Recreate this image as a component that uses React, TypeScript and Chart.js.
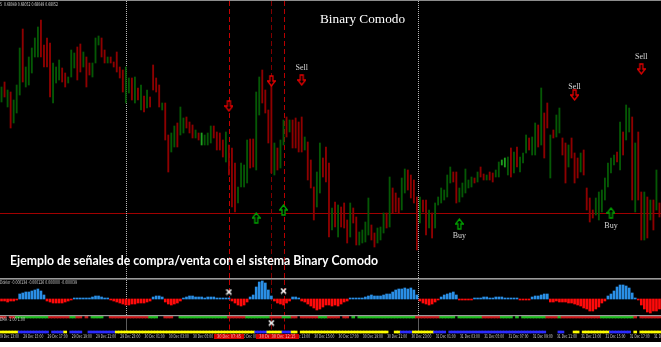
import React, { useEffect, useRef } from "react";
import { Chart, registerables } from "chart.js";
Chart.register(...registerables);

// ---------- DATA ----------
const highs = [
  0.68195, 0.682, 0.68192, 0.6819, 0.68182, 0.68197, 0.68234, 0.68253, 0.68215, 0.68225,
  0.68234, 0.68244, 0.68255, 0.68262, 0.68237, 0.68244, 0.68239, 0.68219, 0.68215, 0.68222,
  0.68214, 0.68209, 0.68205, 0.68232, 0.68229, 0.68235, 0.68238, 0.6823, 0.68225, 0.68219,
  0.68219, 0.68244, 0.68246, 0.68244, 0.68232, 0.68225, 0.68225, 0.6822, 0.6823, 0.68215,
  0.68212, 0.68215, 0.68204, 0.68204, 0.68205, 0.68194, 0.68197, 0.68186, 0.68192, 0.68185,
  0.68217, 0.68204, 0.68197, 0.68179, 0.68179, 0.68147, 0.68149, 0.68156, 0.68159, 0.68175,
  0.68164, 0.68165, 0.6816, 0.68157, 0.68152, 0.68149, 0.68149, 0.68147, 0.68149, 0.68156,
  0.68156, 0.6815, 0.68149, 0.68142, 0.6815, 0.68137, 0.68134, 0.68119, 0.68095, 0.68119,
  0.68117, 0.68142, 0.68143, 0.68143, 0.6819, 0.68205, 0.68212, 0.68192, 0.68172, 0.68204,
  0.68139, 0.68134, 0.68142, 0.68162, 0.68165, 0.68162, 0.68162, 0.68164, 0.6816, 0.68165,
  0.68145, 0.6814, 0.68122, 0.68095, 0.6811, 0.68139, 0.68124, 0.68135, 0.68119, 0.68074,
  0.6808, 0.68077, 0.68075, 0.68079, 0.68062, 0.68079, 0.68074, 0.68065, 0.6805, 0.68052,
  0.6806, 0.68084, 0.68057, 0.68049, 0.68054, 0.68055, 0.68069, 0.68069, 0.68105, 0.68094,
  0.68089, 0.68084, 0.68104, 0.68113, 0.68112, 0.68107, 0.68102, 0.68085, 0.68085, 0.68082,
  0.68082, 0.68072, 0.68069, 0.68079, 0.68085, 0.68094, 0.68092, 0.68107, 0.68115, 0.6811,
  0.6811, 0.68094, 0.68099, 0.68113, 0.68102, 0.68105, 0.68104, 0.6811, 0.68115, 0.68108,
  0.68107, 0.6811, 0.68109, 0.68112, 0.6812, 0.68122, 0.68124, 0.68125, 0.68134, 0.6813,
  0.68135, 0.68125, 0.68129, 0.68147, 0.68144, 0.68145, 0.68159, 0.68157, 0.68194, 0.68169,
  0.68179, 0.68147, 0.68152, 0.68167, 0.68174, 0.68144, 0.68139, 0.68137, 0.68144, 0.68129,
  0.68124, 0.68129, 0.68132, 0.68094, 0.68084, 0.68072, 0.68084, 0.6809, 0.68092, 0.68104,
  0.68119, 0.68124, 0.68127, 0.6813, 0.6816, 0.6815, 0.68177, 0.68174, 0.68165, 0.68139,
  0.6815, 0.6809, 0.6809, 0.68085, 0.68082, 0.68082, 0.68112, 0.68079,
];
const lows = [
  0.6818, 0.68185, 0.68175, 0.68154, 0.68159, 0.68169, 0.68187, 0.682, 0.68195, 0.68197,
  0.68209, 0.68225, 0.68225, 0.68225, 0.68215, 0.68215, 0.68185, 0.68179, 0.68199, 0.68202,
  0.682, 0.68195, 0.68199, 0.68205, 0.68214, 0.68202, 0.6821, 0.68215, 0.68195, 0.68207,
  0.68205, 0.68219, 0.68237, 0.68225, 0.68219, 0.68219, 0.68219, 0.68215, 0.6821, 0.68204,
  0.6819, 0.68179, 0.68189, 0.68182, 0.68179, 0.68182, 0.68172, 0.6817, 0.68174, 0.68175,
  0.68192, 0.6819, 0.68175, 0.68172, 0.68142, 0.6811, 0.6813, 0.68135, 0.68135, 0.68147,
  0.68149, 0.68154, 0.68149, 0.68144, 0.68144, 0.68142, 0.68137, 0.68137, 0.68137, 0.68139,
  0.68144, 0.68132, 0.68132, 0.68125, 0.6812, 0.68107, 0.68075, 0.6807, 0.68079, 0.68095,
  0.68095, 0.68099, 0.68114, 0.68115, 0.68112, 0.68167, 0.68179, 0.68169, 0.68139, 0.68109,
  0.68107, 0.68112, 0.68114, 0.68137, 0.68145, 0.6815, 0.68134, 0.68134, 0.6813, 0.6813,
  0.68132, 0.68102, 0.68094, 0.68062, 0.68075, 0.68089, 0.68105, 0.681, 0.68045, 0.68052,
  0.68055, 0.68045, 0.68055, 0.68054, 0.68039, 0.68045, 0.68059, 0.68037, 0.68037, 0.68039,
  0.6804, 0.68047, 0.68042, 0.68035, 0.68039, 0.68042, 0.68049, 0.68054, 0.68055, 0.68069,
  0.6807, 0.68069, 0.68072, 0.68089, 0.68092, 0.68084, 0.68079, 0.68032, 0.68059, 0.6807,
  0.68047, 0.68054, 0.68044, 0.68054, 0.68077, 0.68079, 0.68082, 0.68085, 0.68099, 0.681,
  0.68079, 0.6808, 0.68085, 0.68089, 0.68094, 0.68095, 0.68099, 0.681, 0.68105, 0.68102,
  0.68102, 0.68102, 0.681, 0.68105, 0.68105, 0.68117, 0.68115, 0.68107, 0.68105, 0.68109,
  0.68115, 0.6811, 0.68119, 0.68129, 0.68132, 0.68127, 0.68127, 0.68135, 0.68137, 0.68124,
  0.68154, 0.68104, 0.68144, 0.68145, 0.68149, 0.68127, 0.68099, 0.68115, 0.68124, 0.68099,
  0.68104, 0.6811, 0.68107, 0.68072, 0.6806, 0.68064, 0.68067, 0.68062, 0.6807, 0.68082,
  0.68095, 0.68109, 0.68117, 0.6812, 0.68112, 0.68127, 0.68142, 0.6815, 0.68082, 0.6807,
  0.68082, 0.68042, 0.68042, 0.68044, 0.68062, 0.68052, 0.68072, 0.68065,
];
// G = bullish bar, R = bearish bar
const barDirection = (
  "GRGRGGGRGG" + "GGGRRRRGGG" + "RRGGGRRGRR" + "GGGRRGRRRR" + "RGGRGRGRGR" +
  "RRRGRRGGRG" + "GRRRGRGGGG" + "RRRRGRRRGG" + "GGRRGGRRRR" + "GRGGRGRRRR" +
  "GRRRGGRRRG" + "RGRRRGRRGG" + "GGRRGGGRGR" + "RRGGRRRRGR" + "RGRGGGGGGR" +
  "RGGGGGRGRR" + "GRRGGGGGRG" + "RGGGRGGRGR" + "RGRGGRRGRR" + "RGRRRRGGGG" +
  "GGGRGRGGRG" + "RRGRGRGR"
).split("");
const brightBars = [66, 165, 166];

// oscillator histogram (units of 0.00001)
const oscillator = [
  -2, -2, -3, -2, -2, -1,
  5, 6, 7, 7, 8, 9, 10, 8, 4,
  -2, -3, -4, -4, -4, -4, -3, -2, -1,
  1, 1, 1, 1, 1, 1, 2, 3, 3, 2, 1, 1,
  -1, -2, -3, -4, -5, -6, -6, -5, -5, -4, -4, -4, -3, -2,
  2, 3, 3, 2,
  -3, -5, -6, -5, -4, -2,
  1, 2, 3, 3, 2, 2, 2, 1, 2, 2, 2, 1, 1, 1, 1, 1,
  -2, -4, -6, -7, -6, -3,
  2, 4, 12, 17, 18, 16, 9, 3,
  -2, -4, -5, -6, -4, -2,
  2, 2, 1,
  -2, -3, -5, -7, -9, -11, -10, -8, -6,
  -6, -7, -6, -7, -5, -3, -2,
  1, 1, 1, 1, 1,
  2, 3, 4, 3, 3, 3, 4, 5, 5,
  7, 9, 10, 10, 11, 10, 11, 9, 4,
  -2, -4, -5, -6, -5, -3, -1,
  2, 4, 5, 6, 7, 4,
  -1, -1, -1, -1, -1,
  1, 1, 1, 2, 2, 1, 1, 2, 2, 2, 1, 1, 1, 1, 1,
  -1, -1, -1, -1,
  2, 3, 3, 4, 5, 5,
  -3, -3, -2, -3, -3,
  -3, -4, -4, -5, -6, -7, -9, -10, -12, -12, -10, -8, -4, -2,
  3, 5, 8, 12, 14, 14, 13, 11, 6,
  1, -1,
  -6, -10, -13, -14, -12, -12, -10,
];

// EMA state strip: g = up, r = down, . = none  (run lengths)
const emaRuns: [string, number][] = [
  ["r", 2], [".", 1], ["r", 2], ["g", 11], ["r", 7], ["g", 2], ["r", 2], [".", 1], ["r", 1], [".", 1],
  ["g", 4], [".", 2], ["r", 13], ["g", 3], [".", 2], ["r", 3], [".", 2], ["g", 16], ["r", 6], ["g", 8],
  ["r", 4], ["g", 3], ["r", 2], [".", 1], ["r", 6], ["g", 3], ["r", 4], [".", 1], ["r", 2], [".", 1],
  ["g", 1], [".", 1], ["g", 19], ["r", 8], ["g", 5], [".", 1], ["g", 8], ["r", 6], ["g", 4], [".", 1],
  ["g", 1], [".", 1], ["g", 8], ["r", 4], ["g", 1], ["r", 13], ["g", 11], ["r", 1], [".", 1], ["r", 7],
];
// trend strip: y = yellow, b = blue, . = none (run lengths)
const trendRuns: [string, number][] = [
  ["y", 6], ["b", 10], [".", 1], ["b", 4], ["y", 1], [".", 1], ["b", 4], [".", 2], ["b", 9], ["y", 46],
  ["b", 4], ["y", 5], ["b", 3], ["y", 2], [".", 1], ["y", 29], [".", 2], ["y", 2], ["b", 4], ["y", 7],
  ["b", 4], [".", 1], ["b", 32], [".", 4], ["b", 2], [".", 3], ["y", 2], [".", 1], ["y", 9], ["b", 7],
  [".", 1], ["y", 1], [".", 1], ["y", 7],
];

const sellBars = [75, 89, 99, 189, 211];
const sellPrices = [0.68176, 0.68201, 0.68202, 0.68187, 0.68213];
const buyBars = [84, 93, 151, 201];
const buyPrices = [0.68064, 0.68072, 0.68058, 0.68069];
const sellTextBars = [99, 189, 211];
const sellTextPrices = [0.68214, 0.68195, 0.68225];
const buyTextBars = [151, 201];
const buyTextPrices = [0.68046, 0.68056];
const supportLevel = 0.68069;
const signalBars = [75, 89, 93];
const signalTimes = ["30 Dec 07:45", "30 Dec 11:15", "30 Dec 12:15"];
const daySeparatorBars = [41, 137.4];
const oscMarkBars = [75, 93];
const oscMarkValues = [7, 8];
const emaMarkBars = [89];

const tickEvery = 8;
const tickLabels = [
  "29 Dec 13:00", "29 Dec 15:00", "29 Dec 17:00", "29 Dec 19:00", "29 Dec 21:00", "29 Dec 23:00",
  "30 Dec 01:00", "30 Dec 03:00", "30 Dec 05:00", "30 Dec 07:00", "30 Dec 09:00", "30 Dec 11:00",
  "30 Dec 13:00", "30 Dec 15:00", "30 Dec 17:00", "30 Dec 19:00", "30 Dec 21:00", "30 Dec 23:00",
  "31 Dec 01:00", "31 Dec 03:00", "31 Dec 05:00", "31 Dec 07:00", "31 Dec 09:00", "31 Dec 11:00",
  "31 Dec 13:00", "31 Dec 15:00", "31 Dec 17:00", "31 Dec 19:00",
];

const titleText = "Binary Comodo";
const captionText = "Ejemplo de señales de compra/venta con el sistema Binary Comodo";
const quoteText = "5  0.68049 0.68052 0.68049 0.68052";
const oscText = "Ddelor -0.000134 -0.000126 0.000000 -0.000039";
const emaText = "EMA -1.00 1.00";

// ---------- STYLE ----------
const W = 661;
const RED_BAR = "#8e0000";
const GREEN_BAR = "#055805";
const BRIGHT_BAR = "#1ea01e";
const SIGNAL_COLORS = ["#c40000", "#800000", "#b80000"];

const expand = (runs: [string, number][]) => runs.flatMap(([s, n]) => Array(n).fill(s) as string[]);
const labels = highs.map((_, i) => String(i));
const sparse = (bars: number[], vals: number[]) =>
  labels.map((_, i) => {
    const j = bars.indexOf(i);
    return j >= 0 ? vals[j] : null;
  });
const markRadius = (r: number) => (c: any) => (c.raw == null ? 0 : r);

function makeArrow(up: boolean, color: string) {
  const c = document.createElement("canvas");
  c.width = 9;
  c.height = 12;
  const g = c.getContext("2d")!;
  g.strokeStyle = color;
  g.lineWidth = 1.3;
  g.fillStyle = "#000";
  g.beginPath();
  if (!up) {
    g.moveTo(3, 1); g.lineTo(6, 1); g.lineTo(6, 6); g.lineTo(8.3, 6);
    g.lineTo(4.5, 11); g.lineTo(0.7, 6); g.lineTo(3, 6);
  } else {
    g.moveTo(3, 11); g.lineTo(6, 11); g.lineTo(6, 6); g.lineTo(8.3, 6);
    g.lineTo(4.5, 1); g.lineTo(0.7, 6); g.lineTo(3, 6);
  }
  g.closePath();
  g.fill();
  g.stroke();
  return c;
}

function makeCross() {
  const c = document.createElement("canvas");
  c.width = 7;
  c.height = 7;
  const g = c.getContext("2d")!;
  g.strokeStyle = "#ffffff";
  g.lineWidth = 1.6;
  g.beginPath();
  g.moveTo(1, 1); g.lineTo(6, 6);
  g.moveTo(6, 1); g.lineTo(1, 6);
  g.stroke();
  return c;
}

function fitText(ctx: CanvasRenderingContext2D, text: string, x: number, y: number, width: number, align: CanvasTextAlign = "left") {
  const w = ctx.measureText(text).width || 1;
  ctx.save();
  ctx.translate(x, y);
  ctx.scale(width / w, 1);
  ctx.textAlign = align;
  ctx.fillText(text, 0, 0);
  ctx.restore();
}

function drawVerticals(chart: any, top: number, bottom: number, sigBottom: number) {
  const { ctx, scales } = chart;
  const x = scales.x;
  ctx.save();
  ctx.lineWidth = 1;
  ctx.setLineDash([1, 1]);
  ctx.strokeStyle = "#b8b8b8";
  daySeparatorBars.forEach((b) => {
    const px = Math.round(x.getPixelForValue(b)) + 0.5;
    ctx.beginPath();
    ctx.moveTo(px, top);
    ctx.lineTo(px, bottom);
    ctx.stroke();
  });
  ctx.setLineDash([5, 3]);
  signalBars.forEach((b, i) => {
    const px = Math.round(x.getPixelForValue(b)) + 0.5;
    ctx.strokeStyle = SIGNAL_COLORS[i];
    ctx.beginPath();
    ctx.moveTo(px, top);
    ctx.lineTo(px, sigBottom);
    ctx.stroke();
  });
  ctx.restore();
}

const baseOptions = (ymin: number, ymax: number, reverse = false): any => ({
  responsive: false,
  maintainAspectRatio: false,
  animation: false,
  devicePixelRatio: 1,
  layout: { padding: 0 },
  events: [],
  plugins: { legend: { display: false }, tooltip: { enabled: false } },
  scales: {
    x: { type: "category", display: false, offset: true, grid: { display: false } },
    y: { type: "linear", display: false, min: ymin, max: ymax, reverse },
  },
});

export default function App() {
  const mainRef = useRef<HTMLCanvasElement>(null);
  const oscRef = useRef<HTMLCanvasElement>(null);
  const lowRef = useRef<HTMLCanvasElement>(null);

  useEffect(() => {
    document.body.style.margin = "0";
    const sellImg = makeArrow(false, "#e00000");
    const buyImg = makeArrow(true, "#00a000");
    const crossImg = makeCross();

    const barColors = barDirection.map((d, i) =>
      brightBars.includes(i) ? BRIGHT_BAR : d === "G" ? GREEN_BAR : RED_BAR
    );

    const mainPlugin = {
      id: "mainOverlay",
      beforeDatasetsDraw(chart: any) {
        const { ctx, chartArea: a, scales } = chart;
        ctx.save();
        const yy = Math.round(scales.y.getPixelForValue(supportLevel)) + 0.5;
        ctx.strokeStyle = "#a00000";
        ctx.lineWidth = 1;
        ctx.beginPath();
        ctx.moveTo(a.left, yy);
        ctx.lineTo(a.right, yy);
        ctx.stroke();
        ctx.restore();
        drawVerticals(chart, 1, chart.height, chart.height);
      },
      afterDraw(chart: any) {
        const { ctx, scales } = chart;
        ctx.save();
        ctx.fillStyle = "#8c8c8c";
        ctx.fillRect(0, 0, W, 1);
        ctx.fillStyle = "#d8d8d8";
        ctx.font = '5px "DejaVu Sans"';
        ctx.textBaseline = "middle";
        fitText(ctx, quoteText, 0, 5, 58);
        ctx.textBaseline = "alphabetic";
        ctx.fillStyle = "#ffffff";
        ctx.font = '13.5px "Liberation Serif"';
        fitText(ctx, titleText, 320, 23, 85);
        ctx.fillStyle = "#d6d6d6";
        ctx.font = '8px "Liberation Serif"';
        ctx.textAlign = "center";
        ctx.textBaseline = "middle";
        sellTextBars.forEach((b, i) => {
          ctx.fillText("Sell", scales.x.getPixelForValue(b), scales.y.getPixelForValue(sellTextPrices[i]));
        });
        buyTextBars.forEach((b, i) => {
          ctx.fillText("Buy", scales.x.getPixelForValue(b), scales.y.getPixelForValue(buyTextPrices[i]));
        });
        ctx.textAlign = "left";
        ctx.textBaseline = "alphabetic";
        ctx.font = 'bold 13px "Lato"';
        ctx.shadowColor = "rgba(0,0,0,0.9)";
        ctx.shadowBlur = 2;
        ctx.fillStyle = "#ffffff";
        fitText(ctx, captionText, 10, 265, 368);
        ctx.restore();
      },
    };

    const pointSet = (data: any[], style: any, r: number) => ({
      type: "line",
      data,
      showLine: false,
      borderWidth: 0,
      pointStyle: style,
      pointRadius: markRadius(r),
      clip: false,
      order: 1,
    });

    const main = new Chart(mainRef.current!, {
      type: "bar",
      data: {
        labels,
        datasets: [
          pointSet(sparse(sellBars, sellPrices), sellImg, 5) as any,
          pointSet(sparse(buyBars, buyPrices), buyImg, 5) as any,
          {
            type: "bar",
            data: highs.map((h, i) => [lows[i], h]),
            backgroundColor: barColors,
            barThickness: 1.2,
            order: 2,
          } as any,
        ],
      },
      options: baseOptions(0.68004, 0.68282),
      plugins: [mainPlugin],
    });

    const oscPlugin = {
      id: "oscOverlay",
      beforeDatasetsDraw(chart: any) {
        drawVerticals(chart, 2, chart.height, chart.height);
      },
      afterDraw(chart: any) {
        const { ctx } = chart;
        ctx.save();
        ctx.fillStyle = "#9a9a9a";
        ctx.fillRect(0, 0, W, 1.6);
        ctx.fillStyle = "#cfcfcf";
        ctx.font = '5px "DejaVu Sans"';
        ctx.textBaseline = "middle";
        fitText(ctx, oscText, 0, 5, 77);
        ctx.restore();
      },
    };

    const osc = new Chart(oscRef.current!, {
      type: "bar",
      data: {
        labels,
        datasets: [
          pointSet(sparse(oscMarkBars, oscMarkValues), crossImg, 3) as any,
          {
            type: "bar",
            data: oscillator,
            backgroundColor: oscillator.map((v) => (v >= 0 ? "#2a8fe6" : "#ff0a0a")),
            barThickness: 2,
            order: 2,
          } as any,
        ],
      },
      options: baseOptions(-16, 21),
      plugins: [oscPlugin],
    });

    const emaStates = expand(emaRuns);
    const trendStates = expand(trendRuns);

    const lowPlugin = {
      id: "lowOverlay",
      beforeDatasetsDraw(chart: any) {
        drawVerticals(chart, 1.5, 18, 17);
      },
      afterDraw(chart: any) {
        const { ctx, scales } = chart;
        const x = scales.x;
        ctx.save();
        ctx.fillStyle = "#9a9a9a";
        ctx.fillRect(0, 0, W, 1.2);
        ctx.fillStyle = "#cfcfcf";
        ctx.font = '5px "DejaVu Sans"';
        ctx.textBaseline = "middle";
        fitText(ctx, emaText, 0, 4.5, 25);
        ctx.fillStyle = "#d0d0d0";
        ctx.font = '5px "DejaVu Sans"';
        tickLabels.forEach((t, j) => {
          const px = x.getPixelForValue(j * tickEvery);
          fitText(ctx, t, px - 2.5, 22, 20);
        });
        signalBars.forEach((b, i) => {
          const px = x.getPixelForValue(b);
          ctx.fillStyle = "#d20000";
          ctx.fillRect(Math.round(px - 15), 19, 30, 5);
          ctx.fillStyle = "#ffb8b8";
          fitText(ctx, signalTimes[i], px, 21.7, 24, "center");
        });
        ctx.restore();
      },
    };

    const low = new Chart(lowRef.current!, {
      type: "bar",
      data: {
        labels,
        datasets: [
          pointSet(sparse(emaMarkBars, [8]), crossImg, 3) as any,
          {
            type: "bar",
            data: emaStates.map((s) => (s === "." ? null : [1.2, 3])),
            backgroundColor: emaStates.map((s) => (s === "g" ? "#1fbf1f" : "#cc1a1a")),
            barPercentage: 1,
            categoryPercentage: 1,
            grouped: false,
            order: 2,
          } as any,
          {
            type: "bar",
            data: trendStates.map((s) => (s === "." ? null : [16, 18])),
            backgroundColor: trendStates.map((s) => (s === "y" ? "#ffff00" : "#2b2bff")),
            barPercentage: 1,
            categoryPercentage: 1,
            grouped: false,
            order: 2,
          } as any,
        ],
      },
      options: baseOptions(0, 27, true),
      plugins: [lowPlugin],
    });

    return () => {
      main.destroy();
      osc.destroy();
      low.destroy();
    };
  }, []);

  return (
    <div style={{ position: "relative", width: W, height: 347, background: "#fff", overflow: "hidden" }}>
      <div style={{ position: "absolute", left: 0, top: 0, width: W, height: 342, background: "#000" }} />
      <canvas ref={mainRef} width={W} height={278} style={{ position: "absolute", left: 0, top: 0 }} />
      <canvas ref={oscRef} width={W} height={37} style={{ position: "absolute", left: 0, top: 278 }} />
      <canvas ref={lowRef} width={W} height={27} style={{ position: "absolute", left: 0, top: 315 }} />
    </div>
  );
}
